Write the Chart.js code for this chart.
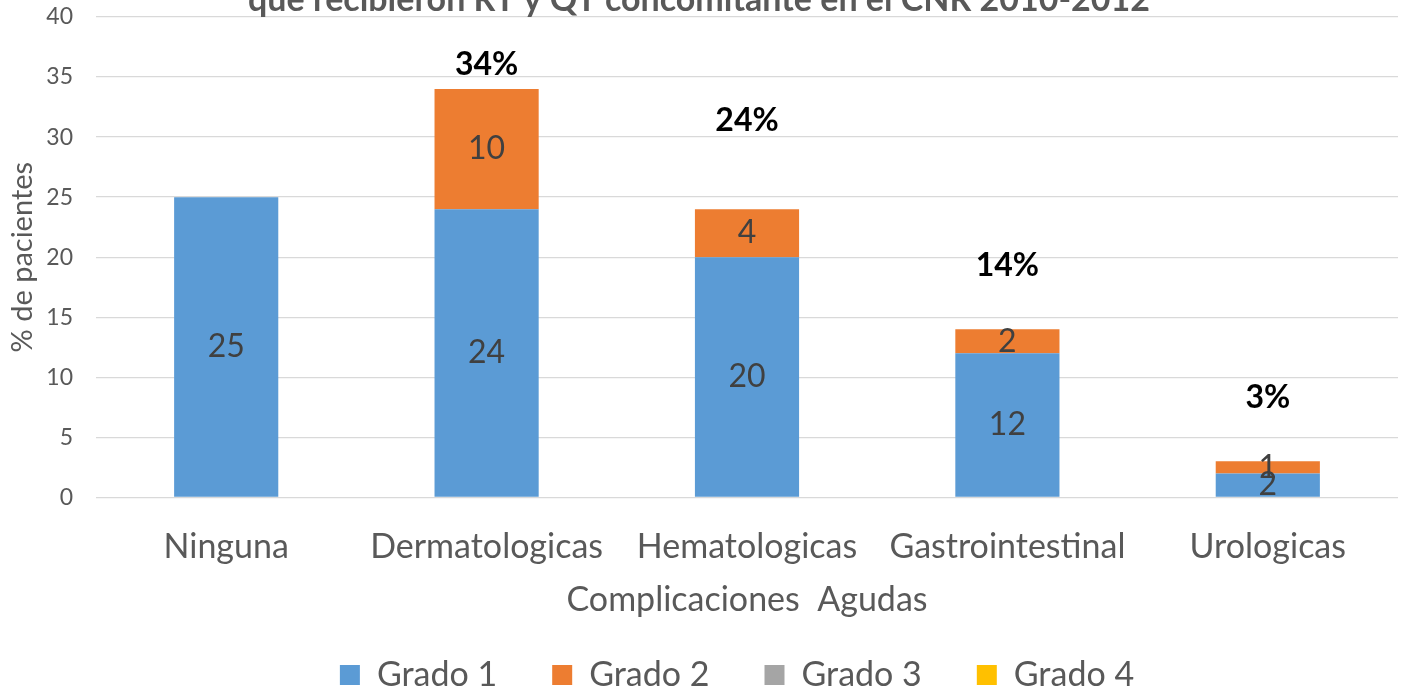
<!DOCTYPE html>
<html>
<head>
<meta charset="utf-8">
<script src="https://cdn.jsdelivr.net/npm/chart.js@4.4.1/dist/chart.umd.min.js"></script>
<style>
    html, body { margin: 0; padding: 0; background: #ffffff; overflow: hidden; }
    #wrap { position: absolute; left: 0; top: -40px; width: 1408px; height: 742px; }
</style>
</head>
<body>
<div id="wrap"><canvas id="chart"></canvas></div>
<script>
const categories = ['Ninguna', 'Dermatologicas', 'Hematologicas', 'Gastrointestinal', 'Urologicas'];
const grado1 = [25, 24, 20, 12, 2];
const grado2 = [0, 10, 4, 2, 1];
const grado3 = [0, 0, 0, 0, 0];
const grado4 = [0, 0, 0, 0, 0];
const totalLabels = ['', '34%', '24%', '14%', '3%'];
const totalLabelLevels = [null, 36, 31.4, 19.3, 8.3];
const yTicks = [0, 5, 10, 15, 20, 25, 30, 35, 40];

const FONT = 'Lato, "Open Sans", sans-serif';
const TEXT = '#595959';

const valueLabels = {
    id: 'valueLabels',
    afterLayout(chart) {
        // the legend in the original sits a bit right of the page centre
        if (chart.legend) {
            chart.legend.left += 76;
        }
    },
    afterDatasetsDraw(chart) {
        const ctx = chart.ctx;
        ctx.save();
        ctx.textAlign = 'center';
        ctx.textBaseline = 'middle';
        ctx.font = `32px ${FONT}`;
        ctx.fillStyle = '#404040';
        chart.data.datasets.forEach((ds, di) => {
            const meta = chart.getDatasetMeta(di);
            meta.data.forEach((bar, i) => {
                const v = ds.data[i];
                if (!v) {
                    return;
                }
                ctx.fillText(String(v), bar.x, (bar.y + bar.base) / 2);
            });
        });

        const x = chart.scales.x;
        const y = chart.scales.y;
        ctx.font = `bold 32px ${FONT}`;
        ctx.fillStyle = '#000000';
        totalLabels.forEach((text, i) => {
            if (!text || totalLabelLevels[i] == null) {
                return;
            }
            ctx.fillText(text, x.getPixelForValue(i), y.getPixelForValue(totalLabelLevels[i]));
        });
        ctx.restore();
    }
};

new Chart(document.getElementById('chart').getContext('2d'), {
    type: 'bar',
    data: {
        labels: categories,
        datasets: [
            { label: 'Grado 1', data: grado1, backgroundColor: '#5B9BD5' },
            { label: 'Grado 2', data: grado2, backgroundColor: '#ED7D31' },
            { label: 'Grado 3', data: grado3, backgroundColor: '#A5A5A5' },
            { label: 'Grado 4', data: grado4, backgroundColor: '#FFC000' }
        ]
    },
    options: {
        responsive: true,
        maintainAspectRatio: false,
        animation: false,
        datasets: {
            bar: {
                categoryPercentage: 1,
                barPercentage: 0.4
            }
        },
        layout: {
            padding: { left: 0, right: 10, top: 0, bottom: 0 }
        },
        plugins: {
            title: {
                display: true,
                text: 'que recibieron RT y QT concomitante en el CNR 2010-2012',
                color: TEXT,
                font: { family: FONT, size: 34, weight: 'bold', lineHeight: 1 },
                padding: { top: 23, bottom: 0 }
            },
            legend: {
                position: 'bottom',
                labels: {
                    color: TEXT,
                    font: { family: FONT, size: 34 },
                    boxWidth: 20,
                    boxHeight: 20,
                    padding: 55
                }
            },
            tooltip: { enabled: false }
        },
        scales: {
            x: {
                stacked: true,
                grid: { display: false },
                border: { display: false },
                ticks: {
                    color: TEXT,
                    font: { family: FONT, size: 34 },
                    padding: 21,
                    maxRotation: 0
                },
                title: {
                    display: true,
                    text: 'Complicaciones  Agudas',
                    color: TEXT,
                    font: { family: FONT, size: 34 },
                    padding: { top: -9, bottom: -17 }
                }
            },
            y: {
                stacked: true,
                min: 0,
                max: 40,
                afterBuildTicks: (scale) => {
                    scale.ticks = yTicks.map((value) => ({ value }));
                },
                afterFit: (scale) => {
                    scale.width = 96;
                },
                grid: {
                    color: '#d9d9d9',
                    lineWidth: 1.3,
                    drawTicks: false
                },
                border: { display: false },
                ticks: {
                    color: TEXT,
                    font: { family: FONT, size: 23 },
                    padding: 23
                },
                title: {
                    display: true,
                    text: '% de pacientes',
                    color: TEXT,
                    font: { family: FONT, size: 29 },
                    padding: { top: 5, bottom: 0 }
                }
            }
        }
    },
    plugins: [valueLabels]
});
</script>
</body>
</html>
